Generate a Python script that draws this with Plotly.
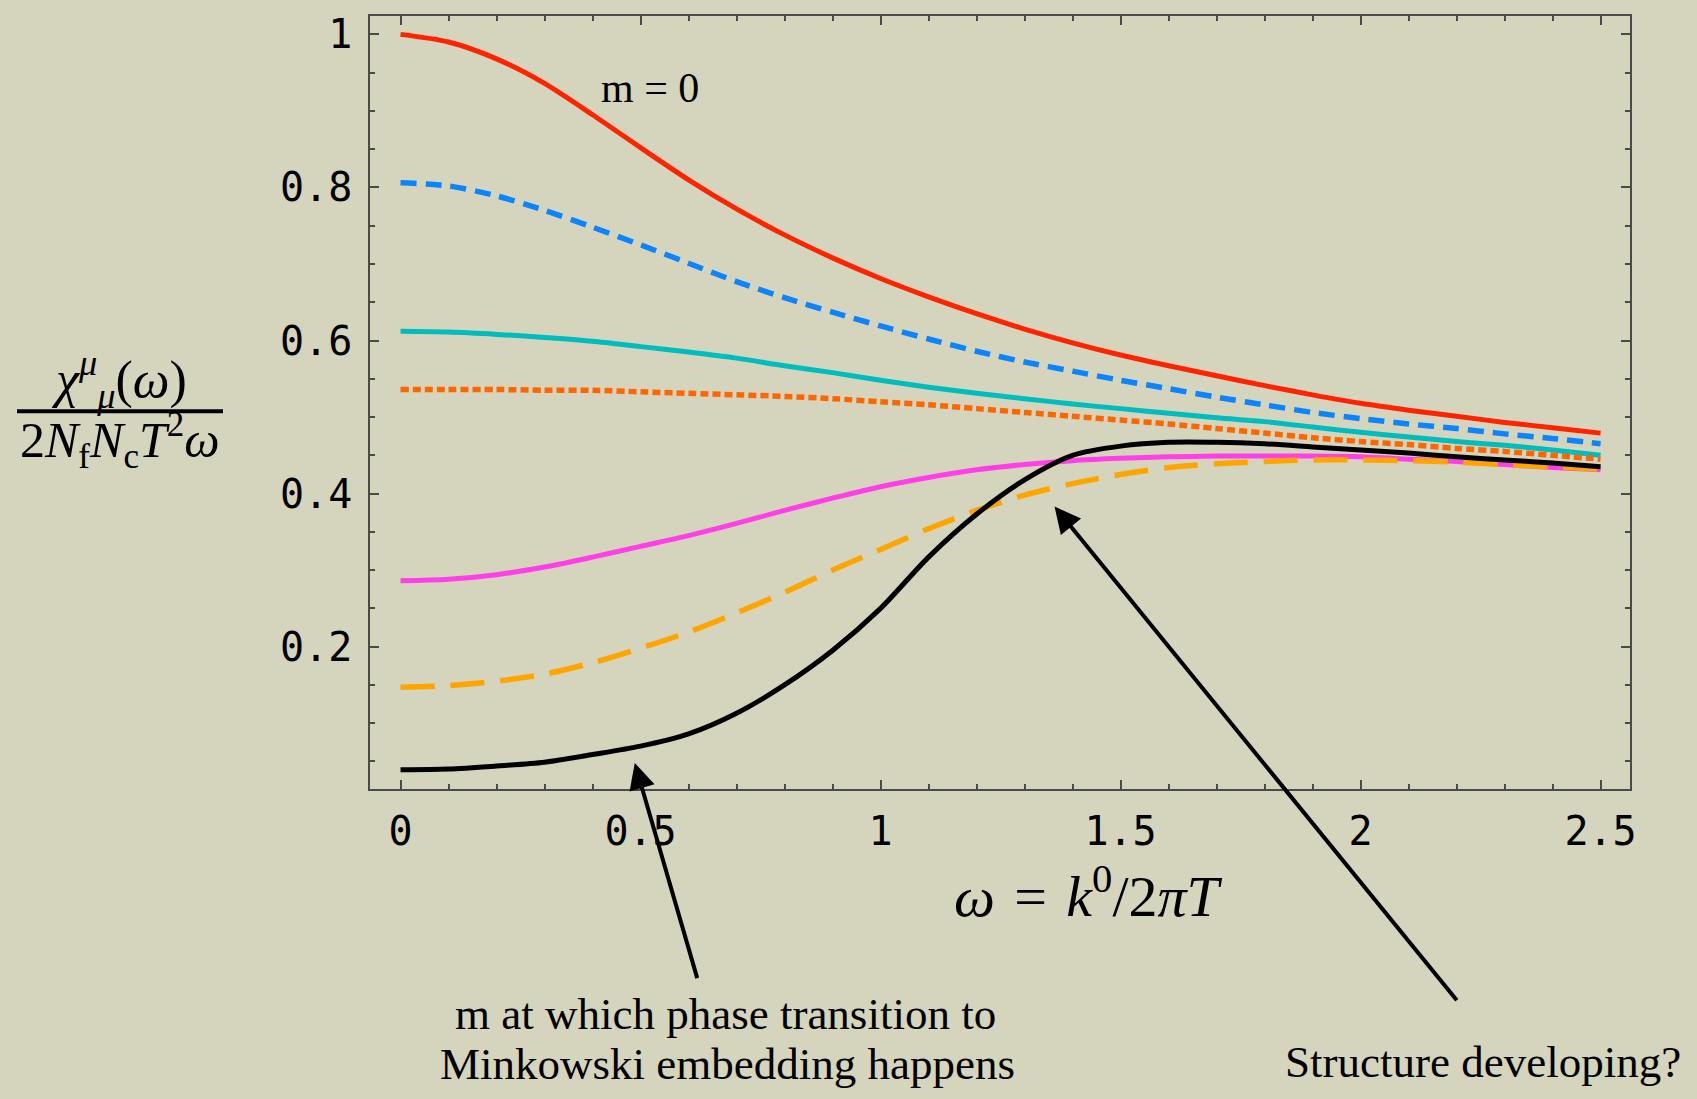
import plotly.graph_objects as go

# omega = k0 / (2 pi T)
omega = [0.0, 0.1, 0.2, 0.3, 0.4, 0.5, 0.6, 0.7, 0.8, 0.9, 1.0, 1.1, 1.2,
         1.3, 1.4, 1.5, 1.6, 1.7, 1.8, 1.9, 2.0, 2.1, 2.2, 2.3, 2.4, 2.5]

# chi^mu_mu(omega) / (2 Nf Nc T^2 omega) for increasing quark mass m
chi_m0 = [1.000, 0.990, 0.968, 0.936, 0.895, 0.852, 0.810, 0.772, 0.738,
          0.708, 0.681, 0.657, 0.635, 0.615, 0.597, 0.581, 0.567, 0.554,
          0.541, 0.529, 0.518, 0.509, 0.501, 0.493, 0.486, 0.479]
chi_m1 = [0.806, 0.802, 0.789, 0.770, 0.748, 0.725, 0.701, 0.677, 0.656,
          0.637, 0.619, 0.602, 0.586, 0.572, 0.560, 0.548, 0.537, 0.526,
          0.516, 0.506, 0.498, 0.491, 0.485, 0.478, 0.472, 0.465]
chi_m2 = [0.612, 0.611, 0.608, 0.604, 0.599, 0.592, 0.585, 0.577, 0.567,
          0.558, 0.548, 0.539, 0.531, 0.524, 0.517, 0.511, 0.505, 0.499,
          0.494, 0.487, 0.480, 0.474, 0.468, 0.463, 0.457, 0.450]
chi_m3 = [0.536, 0.536, 0.536, 0.535, 0.535, 0.533, 0.531, 0.529, 0.527,
          0.524, 0.520, 0.516, 0.511, 0.506, 0.501, 0.496, 0.491, 0.485,
          0.479, 0.473, 0.468, 0.464, 0.459, 0.455, 0.450, 0.445]
chi_m4 = [0.286, 0.288, 0.294, 0.304, 0.317, 0.331, 0.345, 0.361, 0.378,
          0.394, 0.409, 0.421, 0.431, 0.438, 0.443, 0.446, 0.448, 0.449,
          0.449, 0.449, 0.448, 0.445, 0.442, 0.438, 0.434, 0.431]
chi_m5 = [0.147, 0.149, 0.155, 0.164, 0.179, 0.198, 0.219, 0.244, 0.271,
          0.300, 0.327, 0.354, 0.378, 0.398, 0.413, 0.425, 0.434, 0.439,
          0.442, 0.444, 0.444, 0.443, 0.441, 0.438, 0.435, 0.432]
chi_m6 = [0.039, 0.040, 0.044, 0.049, 0.059, 0.070, 0.086, 0.113, 0.150,
          0.195, 0.250, 0.317, 0.373, 0.418, 0.450, 0.462, 0.467, 0.467,
          0.465, 0.461, 0.457, 0.453, 0.448, 0.444, 0.440, 0.435]

x_tick_vals = [0, 0.5, 1, 1.5, 2, 2.5]
x_tick_text = ["0", "0.5", "1", "1.5", "2", "2.5"]
y_tick_vals = [0.2, 0.4, 0.6, 0.8, 1.0]
y_tick_text = ["0.2", "0.4", "0.6", "0.8", "1"]

BG = "#D5D4BD"
FRAME = "#4a4a4a"
SERIF = "Liberation Serif"
MONO = "DejaVu Sans Mono"

W, H = 1697, 1099
L, R, T, B = 370, 67, 11, 310


def px(xp):
    """Horizontal pixel position -> paper fraction."""
    return (xp - L) / (W - L - R)


def py(yp):
    """Vertical pixel position (from top) -> paper fraction."""
    return (H - B - yp) / (H - T - B)


styles = [
    (chi_m0, "#FF2400", "solid", 5),
    (chi_m1, "#0A84FF", "16px,9px", 5.5),
    (chi_m2, "#00BDBD", "solid", 5),
    (chi_m3, "#FF6600", "8px,4px", 5.5),
    (chi_m4, "#FF40E8", "solid", 5),
    (chi_m5, "#FFA500", "34px,16px", 5.5),
    (chi_m6, "#000000", "solid", 5),
]

fig = go.Figure()
for ys, color, dash, width in styles:
    fig.add_trace(go.Scatter(
        x=omega, y=ys, mode="lines",
        line=dict(color=color, dash=dash, width=width, shape="spline", smoothing=0.8),
        showlegend=False, hoverinfo="skip",
    ))

axis_common = dict(
    showline=True, linecolor=FRAME, linewidth=1.5, mirror="allticks",
    ticks="inside", ticklen=9, tickwidth=1.5, tickcolor=FRAME,
    showgrid=False, zeroline=False,
    tickfont=dict(family=MONO, size=40, color="#000000"),
)

fig.update_xaxes(
    range=[-0.0636, 2.5613], tickmode="array",
    tickvals=x_tick_vals, ticktext=x_tick_text, ticklabelstandoff=6,
    minor=dict(ticks="inside", ticklen=5, tickwidth=1.5, tickcolor=FRAME,
               tickmode="linear", tick0=0, dtick=0.1),
    **axis_common,
)
fig.update_yaxes(
    range=[0.014, 1.024], tickmode="array",
    tickvals=y_tick_vals, ticktext=y_tick_text, ticklabelstandoff=8,
    minor=dict(ticks="inside", ticklen=5, tickwidth=1.5, tickcolor=FRAME,
               tickmode="linear", tick0=0, dtick=0.05),
    **axis_common,
)

annotations = [
    # y-axis label as a stacked fraction
    dict(x=px(119), y=py(377), xref="paper", yref="paper", showarrow=False,
         xanchor="center", yanchor="middle",
         text="<i>χ</i><sup><i>μ</i></sup><sub><i>μ</i></sub>(<i>ω</i>)",
         font=dict(family=SERIF, size=52, color="black")),
    dict(x=px(120), y=py(438), xref="paper", yref="paper", showarrow=False,
         xanchor="center", yanchor="middle",
         text="2<i>N</i><sub>f</sub><i>N</i><sub>c</sub><i>T</i><sup>2</sup><i>ω</i>",
         font=dict(family=SERIF, size=50, color="black")),
    # x-axis label
    dict(x=px(1088), y=py(893), xref="paper", yref="paper", showarrow=False,
         xanchor="center", yanchor="middle",
         text="<i>ω</i>\u2004=\u2004<i>k</i><sup>0</sup>/2<i>π</i><i>T</i>",
         font=dict(family=SERIF, size=58, color="black")),
    # curve label
    dict(x=px(650), y=py(83), xref="paper", yref="paper", showarrow=False,
         xanchor="center", yanchor="middle", text="m = 0",
         font=dict(family=SERIF, size=42, color="black")),
    # comments below the plot
    dict(x=px(725), y=py(1015), xref="paper", yref="paper", showarrow=False,
         xanchor="center", yanchor="middle",
         text="m at which phase transition to",
         font=dict(family=SERIF, size=45, color="black")),
    dict(x=px(727), y=py(1066), xref="paper", yref="paper", showarrow=False,
         xanchor="center", yanchor="middle",
         text="Minkowski embedding happens",
         font=dict(family=SERIF, size=45, color="black")),
    dict(x=px(1683), y=py(1064), xref="paper", yref="paper", showarrow=False,
         xanchor="right", yanchor="middle",
         text="Structure developing?",
         font=dict(family=SERIF, size=45, color="black")),
    # arrows pointing at features of the curves
    dict(x=0.488, y=0.048, xref="x", yref="y",
         ax=0.619, ay=-0.235, axref="x", ayref="y",
         showarrow=True, arrowhead=2, arrowsize=1.3, arrowwidth=4,
         arrowcolor="black", text=""),
    dict(x=1.3625, y=0.383, xref="x", yref="y",
         ax=2.203, ay=-0.264, axref="x", ayref="y",
         showarrow=True, arrowhead=2, arrowsize=1.3, arrowwidth=4,
         arrowcolor="black", text=""),
]

shapes = [
    # fraction bar of the y-axis label
    dict(type="line", xref="paper", yref="paper",
         x0=px(17), x1=px(223), y0=py(408.7), y1=py(408.7),
         line=dict(color="black", width=4)),
]

fig.update_layout(
    width=W, height=H, autosize=False,
    margin=dict(l=L, r=R, t=T, b=B, pad=0),
    paper_bgcolor=BG, plot_bgcolor=BG,
    annotations=annotations, shapes=shapes,
    showlegend=False,
)

fig.write_html("out.html")
